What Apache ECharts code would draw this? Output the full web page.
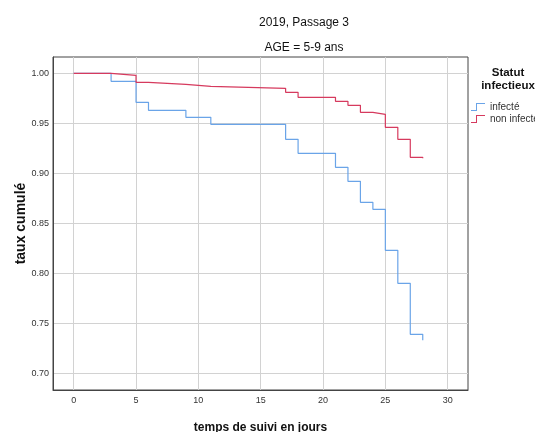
<!DOCTYPE html>
<html>
<head>
<meta charset="utf-8">
<script src="https://cdn.jsdelivr.net/npm/echarts@6/dist/echarts.min.js"></script>
<style>html,body{margin:0;padding:0;background:#fff}#c{width:535px;height:432px}</style>
</head>
<body>
<div id="c"></div>
<script>
// Days of follow-up where a step occurs
const days = [0, 3, 5, 6, 9, 11, 17, 18, 21, 22, 23, 24, 25, 26, 27, 28];
// Cumulative rate, infected group
const infecte = [1.000, 0.992, 0.971, 0.963, 0.956, 0.949, 0.934, 0.920, 0.906, 0.892, 0.871, 0.864, 0.823, 0.790, 0.739, 0.733];
// Cumulative rate, non-infected group
const nonInfecte = [1.000, 0.998, 0.991, 0.989, 0.987, 0.985, 0.981, 0.976, 0.972, 0.968, 0.961, 0.959, 0.946, 0.934, 0.916, 0.915];
const xTicks = [0, 5, 10, 15, 20, 25, 30];
const yTicks = [0.70, 0.75, 0.80, 0.85, 0.90, 0.95, 1.00];
const seriesNames = ['infecté', 'non infecté'];

const blue = '#6aa4e8';
const red = '#d63a5e';
const sans = '"Liberation Sans", Arial, sans-serif';

const chart = echarts.init(document.getElementById('c'), null, {renderer: 'canvas'});
chart.setOption({
  animation: false,
  backgroundColor: '#fff',
  title: [
    {text: '2019, Passage 3', left: 304, top: 17, textAlign: 'center', padding: 0,
     textStyle: {fontFamily: sans, fontSize: 12, fontWeight: 'normal', color: '#111'}},
    {text: 'AGE = 5-9 ans', left: 304, top: 42, textAlign: 'center', padding: 0,
     textStyle: {fontFamily: sans, fontSize: 12, fontWeight: 'normal', color: '#111'}},
    {text: 'Statut\ninfectieux', left: 508, top: 66, textAlign: 'center', padding: 0,
     textStyle: {fontFamily: sans, fontSize: 11.5, fontWeight: 'bold', color: '#111', lineHeight: 13}}
  ],
  legend: {
    orient: 'vertical', left: 471, top: 102, padding: 0,
    itemWidth: 14, itemHeight: 8, itemGap: 2,
    icon: 'path://M0,7 L5,7 L5,0 L14,0 L14,1 L6,1 L6,8 L0,8 Z',
    textStyle: {fontFamily: sans, fontSize: 10, color: '#333'},
    data: seriesNames
  },
  grid: {left: 53, right: 67, top: 57, bottom: 42, outerBoundsMode: 'none', containLabel: false,
    show: true, borderColor: '#444', borderWidth: 1},
  xAxis: {
    type: 'value', min: -1.66, max: 31.63,
    name: 'temps de suivi en jours', nameLocation: 'middle', nameGap: 32,
    nameTextStyle: {fontFamily: sans, fontSize: 12, fontWeight: 'bold', color: '#111'},
    axisLine: {show: true, onZero: false, lineStyle: {color: '#444', width: 1}},
    axisTick: {show: false, customValues: xTicks},
    axisLabel: {customValues: xTicks, fontFamily: sans, fontSize: 9, color: '#333', margin: 6},
    splitLine: {show: true, lineStyle: {color: '#d2d2d2', width: 1}}
  },
  yAxis: {
    type: 'value', min: 0.6833, max: 1.0163,
    name: 'taux cumulé', nameLocation: 'middle', nameGap: 25, nameMoveOverlap: false,
    nameTextStyle: {fontFamily: sans, fontSize: 14, fontWeight: 'bold', color: '#111'},
    axisLine: {show: true, onZero: false, lineStyle: {color: '#444', width: 1}},
    axisTick: {show: false, customValues: yTicks},
    axisLabel: {customValues: yTicks, fontFamily: sans, fontSize: 9, color: '#333', margin: 4,
      formatter: v => v.toFixed(2)},
    splitLine: {show: true, lineStyle: {color: '#d2d2d2', width: 1}}
  },
  series: [
    {name: seriesNames[0], type: 'line', step: 'end', showSymbol: false, symbol: 'none',
     color: blue, lineStyle: {color: blue, width: 1.2},
     data: days.map((d, i) => [d, infecte[i]])},
    {name: seriesNames[1], type: 'line', step: 'end', showSymbol: false, symbol: 'none',
     color: red, lineStyle: {color: red, width: 1.2},
     data: days.map((d, i) => [d, nonInfecte[i]])}
  ]
});
</script>
</body>
</html>
